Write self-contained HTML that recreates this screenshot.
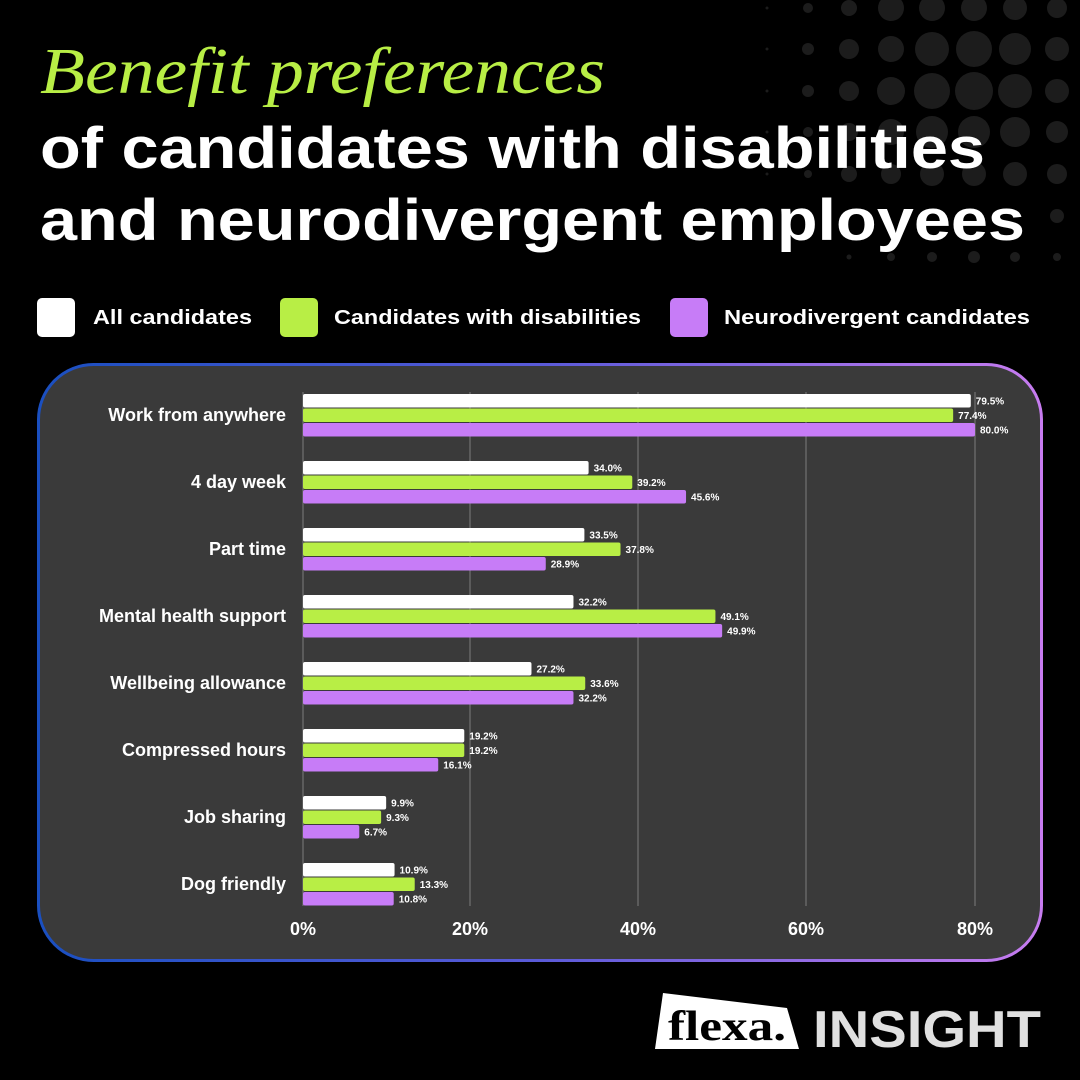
<!DOCTYPE html>
<html><head><meta charset="utf-8"><style>
html,body{margin:0;padding:0;background:#000;}
svg{display:block;}
text{font-family:"Liberation Sans",sans-serif;font-weight:bold;}
</style></head><body>
<svg width="1080" height="1080" viewBox="0 0 1080 1080" xmlns="http://www.w3.org/2000/svg">
<defs>
<linearGradient id="bd" x1="0" y1="0" x2="1" y2="0">
<stop offset="0" stop-color="#1a4fc0"/><stop offset="0.5" stop-color="#5a5ad8"/><stop offset="1" stop-color="#c77cf0"/>
</linearGradient>
</defs>
<rect width="1080" height="1080" fill="#000"/>
<g fill="#1c1c1c">
<!-- row y8 -->
<circle cx="767" cy="8" r="1.5"/><circle cx="808" cy="8" r="5"/><circle cx="849" cy="8" r="8"/><circle cx="891" cy="8" r="13"/><circle cx="932" cy="8" r="13"/><circle cx="974" cy="8" r="13"/><circle cx="1015" cy="8" r="12"/><circle cx="1057" cy="8" r="10"/>
<circle cx="767" cy="49" r="1.5"/><circle cx="808" cy="49" r="6"/><circle cx="849" cy="49" r="10"/><circle cx="891" cy="49" r="13"/><circle cx="932" cy="49" r="17"/><circle cx="974" cy="49" r="18"/><circle cx="1015" cy="49" r="16"/><circle cx="1057" cy="49" r="12"/>
<circle cx="767" cy="91" r="1.5"/><circle cx="808" cy="91" r="6"/><circle cx="849" cy="91" r="10"/><circle cx="891" cy="91" r="14"/><circle cx="932" cy="91" r="18"/><circle cx="974" cy="91" r="19"/><circle cx="1015" cy="91" r="17"/><circle cx="1057" cy="91" r="12"/>
<circle cx="767" cy="132" r="1.5"/><circle cx="808" cy="132" r="5"/><circle cx="849" cy="132" r="9"/><circle cx="891" cy="132" r="13"/><circle cx="932" cy="132" r="16"/><circle cx="974" cy="132" r="16"/><circle cx="1015" cy="132" r="15"/><circle cx="1057" cy="132" r="11"/>
<circle cx="767" cy="174" r="1.5"/><circle cx="808" cy="174" r="4"/><circle cx="849" cy="174" r="8"/><circle cx="891" cy="174" r="10"/><circle cx="932" cy="174" r="12"/><circle cx="974" cy="174" r="12"/><circle cx="1015" cy="174" r="12"/><circle cx="1057" cy="174" r="10"/>
<circle cx="1057" cy="216" r="7"/>
<circle cx="849" cy="257" r="2.5"/><circle cx="891" cy="257" r="4"/><circle cx="932" cy="257" r="5"/><circle cx="974" cy="257" r="6"/><circle cx="1015" cy="257" r="5"/><circle cx="1057" cy="257" r="4"/>
</g>
<text x="40" y="93" fill="#b8ee45" style="font-family:'Liberation Serif',serif;font-style:italic;font-weight:normal" font-size="66" textLength="565" lengthAdjust="spacingAndGlyphs">Benefit preferences</text>
<text x="40" y="168" fill="#fff" font-size="58" textLength="945" lengthAdjust="spacingAndGlyphs">of candidates with disabilities</text>
<text x="40" y="240" fill="#fff" font-size="58" textLength="985" lengthAdjust="spacingAndGlyphs">and neurodivergent employees</text>
<!-- legend -->
<rect x="37" y="298" width="38" height="39" rx="5" fill="#fff"/>
<text x="93" y="324" fill="#fff" font-size="20" textLength="159" lengthAdjust="spacingAndGlyphs">All candidates</text>
<rect x="280" y="298" width="38" height="39" rx="5" fill="#b8ee45"/>
<text x="334" y="324" fill="#fff" font-size="20" textLength="307" lengthAdjust="spacingAndGlyphs">Candidates with disabilities</text>
<rect x="670" y="298" width="38" height="39" rx="5" fill="#c77cf7"/>
<text x="724" y="324" fill="#fff" font-size="20" textLength="306" lengthAdjust="spacingAndGlyphs">Neurodivergent candidates</text>
<!-- panel -->
<rect x="38.5" y="364.5" width="1003" height="596" rx="55" fill="#3a3a3a" stroke="url(#bd)" stroke-width="3"/>
<g stroke="#666" stroke-width="1.5">
<line x1="303" y1="392" x2="303" y2="906"/><line x1="470" y1="392" x2="470" y2="906"/><line x1="638" y1="392" x2="638" y2="906"/><line x1="806" y1="392" x2="806" y2="906"/><line x1="975" y1="392" x2="975" y2="906"/>
</g>
<g id="bars"></g>
<g fill="#fff" font-size="18" text-anchor="middle">
<text x="303" y="935">0%</text><text x="470" y="935">20%</text><text x="638" y="935">40%</text><text x="806" y="935">60%</text><text x="975" y="935">80%</text>
</g>
<!-- logo -->
<polygon points="663,993 787,1008 799,1049 655,1049" fill="#fff"/>
<text x="668" y="1040" fill="#000" style="font-family:'Liberation Serif',serif;font-weight:bold" font-size="42" textLength="118" lengthAdjust="spacingAndGlyphs">flexa.</text>
<text x="813" y="1047" fill="#e0e0e0" font-size="52" textLength="228" lengthAdjust="spacingAndGlyphs">INSIGHT</text>
<script>
(function(){
var d=[["Work from anywhere",79.5,77.4,80.0],["4 day week",34.0,39.2,45.6],["Part time",33.5,37.8,28.9],["Mental health support",32.2,49.1,49.9],["Wellbeing allowance",27.2,33.6,32.2],["Compressed hours",19.2,19.2,16.1],["Job sharing",9.9,9.3,6.7],["Dog friendly",10.9,13.3,10.8]];
var c=["#fff","#b8ee45","#c77cf7"],ns="http://www.w3.org/2000/svg",g=document.getElementById("bars");
function el(t,a,txt){var e=document.createElementNS(ns,t);for(var k in a)e.setAttribute(k,a[k]);if(txt)e.textContent=txt;g.appendChild(e);}
d.forEach(function(r,i){var y0=394+i*67;
el("text",{x:286,y:y0+27,fill:"#fff","font-size":"18","text-anchor":"end"},r[0]);
for(var j=0;j<3;j++){var y=y0+j*14.5,w=r[j+1]*8.4;
el("rect",{x:303,y:y,width:w,height:13.5,rx:2,fill:c[j]});
el("text",{x:303+w+5,y:y+10.5,fill:"#fff","font-size":"10"},r[j+1].toFixed(1)+"%");}
});
})();
</script>
</svg>
</body></html>
